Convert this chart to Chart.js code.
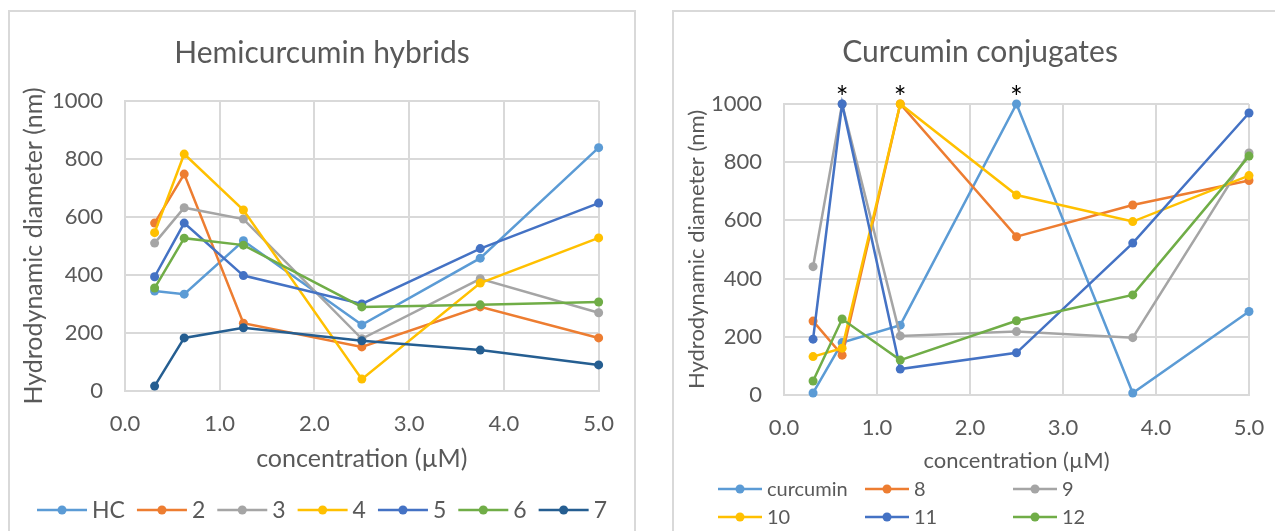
<!DOCTYPE html>
<html lang="en">
<head>
  <meta charset="UTF-8" />
  <title>Hydrodynamic diameter</title>
  <script src="https://cdn.jsdelivr.net/npm/chart.js"></script>
  <style>
    html, body {
      margin: 0;
      padding: 0;
      background: #fff;
      overflow: hidden;
    }
    .panel {
      position: absolute;
      top: 10px;
      border: 2px solid #d9d9d9;
      background: #fff;
    }
    #leftPanel { left: 8px; width: 624px; height: 540px; }
    #rightPanel { left: 672px; width: 612px; height: 540px; }
    canvas { display: block; }
  </style>
</head>
<body>

  <div class="panel" id="leftPanel">
    <canvas id="hybridChart" width="624" height="520"></canvas>
  </div>
  <div class="panel" id="rightPanel">
    <canvas id="conjugateChart" width="612" height="520"></canvas>
  </div>

<script>
  // concentrations (µM)
  const concentrations = [0.3125, 0.625, 1.25, 2.5, 3.75, 5.0];

  // hemicurcumin hybrids, diameter in nm
  const hybridLabels = ['HC', '2', '3', '4', '5', '6', '7'];
  const hcValues = [345, 334, 518, 228, 458, 839];
  const h2Values = [579, 748, 234, 152, 290, 183];
  const h3Values = [510, 632, 593, 180, 387, 270];
  const h4Values = [546, 817, 624, 41, 372, 528];
  const h5Values = [394, 579, 398, 300, 491, 648];
  const h6Values = [355, 527, 503, 290, 297, 307];
  const h7Values = [17, 183, 218, 173, 141, 90];

  // curcumin conjugates, diameter in nm
  const conjugateLabels = ['curcumin', '8', '9', '10', '11', '12'];
  const curValues = [7, 180, 240, 1000, 7, 287];
  const c8Values = [254, 137, 1000, 544, 653, 737];
  const c9Values = [441, 1000, 203, 218, 197, 832];
  const c10Values = [132, 161, 1000, 687, 596, 754];
  const c11Values = [192, 1000, 89, 145, 522, 969];
  const c12Values = [48, 261, 120, 255, 344, 821];

  // concentrations marked with * (over the range)
  const starConcentrations = [0.625, 1.25, 2.5];
  const starValue = 1000;

  const xTicks = [0, 1, 2, 3, 4, 5];
  const yTicks = [0, 200, 400, 600, 800, 1000];

  const palette = ['#5B9BD5', '#ED7D31', '#A5A5A5', '#FFC000', '#4472C4', '#70AD47', '#255E91'];
  const textColor = '#595959';
  const gridColor = '#d9d9d9';

  Chart.defaults.font.family = 'Lato';
  Chart.defaults.color = textColor;

  function makeDatasets(labels, series) {
    return series.map((vals, i) => ({
      label: labels[i],
      data: vals.map((v, k) => ({ x: concentrations[k], y: v })),
      borderColor: palette[i],
      backgroundColor: palette[i],
      pointBackgroundColor: palette[i],
      pointBorderColor: palette[i],
      borderWidth: 2.5,
      pointRadius: 4.5,
      pointBorderWidth: 0,
      tension: 0,
      clip: false,
      order: -i
    }));
  }

  // legend: line with a dot, then the label
  const lineLegend = {
    id: 'lineLegend',
    afterDraw(chart, args, opts) {
      const ctx = chart.ctx;
      const sets = chart.data.datasets;
      ctx.save();
      ctx.font = opts.size + 'px Lato';
      ctx.textBaseline = 'middle';
      ctx.textAlign = 'left';
      const items = sets.map(ds => ({
        ds: ds,
        w: opts.lineLen + opts.textGap + ctx.measureText(ds.label).width
      }));
      let pos;
      if (opts.columns) {
        const n = opts.columns.length;
        pos = items.map((it, i) => ({ x: opts.columns[i % n], y: opts.rows[Math.floor(i / n)] }));
      } else {
        const total = items.reduce((s, it) => s + it.w, 0) + opts.gap * (items.length - 1);
        let x = (chart.width - total) / 2;
        pos = items.map(it => {
          const p = { x: x, y: opts.y };
          x += it.w + opts.gap;
          return p;
        });
      }
      items.forEach((it, i) => {
        const p = pos[i];
        ctx.strokeStyle = it.ds.borderColor;
        ctx.fillStyle = it.ds.borderColor;
        ctx.lineWidth = 2.5;
        ctx.beginPath();
        ctx.moveTo(p.x, p.y);
        ctx.lineTo(p.x + opts.lineLen, p.y);
        ctx.stroke();
        ctx.beginPath();
        ctx.arc(p.x + opts.lineLen / 2, p.y, 4.5, 0, Math.PI * 2);
        ctx.fill();
        ctx.fillStyle = textColor;
        ctx.fillText(it.ds.label, p.x + opts.lineLen + opts.textGap, p.y + 1);
      });
      ctx.restore();
    }
  };

  // asterisks above the capped points
  const starMarks = {
    id: 'starMarks',
    afterDatasetsDraw(chart, args, opts) {
      if (!opts.values) return;
      const ctx = chart.ctx;
      const sx = chart.scales.x;
      const sy = chart.scales.y;
      ctx.save();
      ctx.font = '30px Lato';
      ctx.fillStyle = '#000';
      ctx.textAlign = 'center';
      ctx.textBaseline = 'alphabetic';
      opts.values.forEach(v => {
        ctx.fillText('*', sx.getPixelForValue(v), sy.getPixelForValue(opts.level) + 4);
      });
      ctx.restore();
    }
  };

  function makeChart(canvasId, cfg) {
    const ctx = document.getElementById(canvasId).getContext('2d');
    return new Chart(ctx, {
      type: 'line',
      data: { datasets: cfg.datasets },
      plugins: [lineLegend, starMarks],
      options: {
        responsive: false,
        animation: false,
        devicePixelRatio: 1,
        layout: {
          padding: { left: cfg.side, right: cfg.side, top: 0, bottom: cfg.bottom }
        },
        plugins: {
          legend: { display: false },
          tooltip: { enabled: false },
          title: {
            display: true,
            text: cfg.title,
            color: textColor,
            font: { size: 30, weight: 'normal' },
            padding: { top: cfg.titleTop, bottom: cfg.titleBottom }
          },
          lineLegend: cfg.legend,
          starMarks: cfg.stars || {}
        },
        scales: {
          x: {
            type: 'linear',
            min: 0,
            max: 5,
            afterBuildTicks: axis => { axis.ticks = xTicks.map(v => ({ value: v })); },
            afterFit: axis => { axis.height = cfg.xHeight; },
            ticks: {
              padding: 20,
              font: { size: 22 },
              color: textColor,
              callback: v => v.toFixed(1)
            },
            grid: { color: gridColor, lineWidth: 2, drawTicks: false },
            border: { color: gridColor, width: 2 },
            title: {
              display: true,
              text: 'concentration (\u00B5M)',
              color: textColor,
              font: { size: cfg.axisFont },
              padding: { top: 0, bottom: 2 }
            }
          },
          y: {
            min: 0,
            max: 1000,
            afterBuildTicks: axis => { axis.ticks = yTicks.map(v => ({ value: v })); },
            afterFit: axis => { axis.width = cfg.yWidth; },
            ticks: {
              padding: 22,
              font: { size: 22 },
              color: textColor,
              callback: v => String(v)
            },
            grid: { color: gridColor, lineWidth: 2, drawTicks: false },
            border: { color: gridColor, width: 2 },
            title: {
              display: true,
              text: 'Hydrodynamic diameter (nm)',
              color: textColor,
              font: { size: cfg.axisFont },
              padding: { top: cfg.yTitleShift, bottom: 0 }
            }
          }
        }
      }
    });
  }

  makeChart('hybridChart', {
    title: 'Hemicurcumin hybrids',
    datasets: makeDatasets(hybridLabels,
      [hcValues, h2Values, h3Values, h4Values, h5Values, h6Values, h7Values]),
    side: 32,
    bottom: 56,
    titleTop: 23,
    titleBottom: 30,
    xHeight: 85,
    yWidth: 83,
    axisFont: 25,
    yTitleShift: -23,
    legend: { size: 23, lineLen: 50, textGap: 5, gap: 12, y: 498 }
  });

  makeChart('conjugateChart', {
    title: 'Curcumin conjugates',
    datasets: makeDatasets(conjugateLabels,
      [curValues, c8Values, c9Values, c10Values, c11Values, c12Values]),
    side: 37,
    bottom: 56,
    titleTop: 22,
    titleBottom: 34,
    xHeight: 81,
    yWidth: 73,
    axisFont: 22,
    yTitleShift: -27,
    legend: { size: 20, lineLen: 44, textGap: 5, columns: [44, 191, 339], rows: [477, 505] },
    stars: { values: starConcentrations, level: starValue }
  });
</script>
</body>
</html>
